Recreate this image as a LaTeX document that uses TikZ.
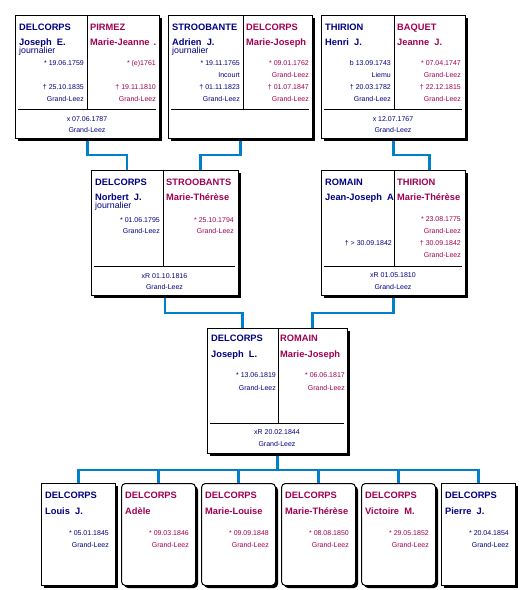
\documentclass[tikz,border=0pt]{standalone}
\usepackage{fontspec}
\setmainfont{Liberation Sans}
\usetikzlibrary{shadows}
\definecolor{mcol}{RGB}{0,0,128}
\definecolor{fcol}{RGB}{160,0,80}
\definecolor{lcol}{RGB}{0,128,200}
\newcommand\fsur{\fontsize{9.3}{10}\selectfont\bfseries}
\newcommand\fjob{\fontsize{8.8}{10}\selectfont}
\newcommand\fdat{\fontsize{7}{8}\selectfont}
\pgfdeclarelayer{background}
\pgfsetlayers{background,main}
\begin{document}
\begin{tikzpicture}[x=1pt,y=-1pt,
  box/.style={draw=black, fill=white, line width=1pt, inner sep=0, anchor=north west,
    drop shadow={shadow xshift=2.5pt, shadow yshift=-2.5pt, opacity=1, fill=black}},
  fbox/.style={box, rounded corners=4pt},
  div/.style={line width=1pt},
  conn/.style={draw=lcol, line width=2.5pt},
  ms/.style={font=\fsur, inner sep=0, anchor=base west, text=mcol},
  fs/.style={font=\fsur, inner sep=0, anchor=base west, text=fcol},
  job/.style={font=\fjob, inner sep=0, anchor=base west, text=mcol},
  mdat/.style={font=\fdat, inner sep=0, anchor=base east, text=mcol},
  fdat/.style={font=\fdat, inner sep=0, anchor=base east, text=fcol},
  mar/.style={font=\fdat, inner sep=0, anchor=base, text=mcol}]
\useasboundingbox (0,0) rectangle (526,590);

% ---------- boxes ----------
\node[box, minimum width=144, minimum height=123] (b1) at (15,15) {};
\node[box, minimum width=144, minimum height=123] (b2) at (168,15) {};
\node[box, minimum width=144, minimum height=123] (b3) at (321,15) {};
\node[box, minimum width=147, minimum height=125] (b4) at (91,170) {};
\node[box, minimum width=144, minimum height=125] (b5) at (321,170) {};
\node[box, minimum width=140, minimum height=125] (c) at (207,328) {};
\node[box,  minimum width=74, minimum height=102] (k1) at (41,483) {};
\node[fbox, minimum width=74, minimum height=102] (k2) at (121,483) {};
\node[fbox, minimum width=74, minimum height=102] (k3) at (201,483) {};
\node[fbox, minimum width=74, minimum height=102] (k4) at (281,483) {};
\node[fbox, minimum width=74, minimum height=102] (k5) at (361,483) {};
\node[box,  minimum width=74, minimum height=102] (k6) at (441,483) {};

% attachment points on the halves
\coordinate (b4m) at (127,170);
\coordinate (b4f) at (200.5,170);
\coordinate (b5f) at (429.5,170);
\coordinate (cm) at (242.5,328);
\coordinate (cf) at (312.5,328);

% ---------- connectors ----------
\begin{pgfonlayer}{background}
\draw[conn] (b1.south) -- ++(0,16) -| (b4m);
\draw[conn] (b2.south) -- ++(0,16) -| (b4f);
\draw[conn] (b3.south) -- ++(0,16) -| (b5f);
\draw[conn] (b4.south) -- ++(0,17) -| (cm);
\draw[conn] (b5.south) -- ++(0,17) -| (cf);
\draw[conn] (c.south) -- ++(0,16) coordinate (cj);
\draw[conn] (cj) -| (k1.north);
\draw[conn] (cj) -| (k2.north);
\draw[conn] (cj) -| (k3.north);
\draw[conn] (cj) -| (k4.north);
\draw[conn] (cj) -| (k5.north);
\draw[conn] (cj) -| (k6.north);
\end{pgfonlayer}

% ---------- box 1 ----------
\draw[div] (87,15) -- (87,109);
\draw[div] (18,109) -- (156,109);
\node[ms] at (19,30) {DELCORPS};
\node[ms] at (19,45) {Joseph~~E.};
\node[job] at (19,53) {journalier};
\node[mdat] at (84,65) {* 19.06.1759};
\node[mdat] at (84,89) {† 25.10.1835};
\node[mdat] at (84,101) {Grand-Leez};
\node[fs] at (90,30) {PIRMEZ};
\node[fs] at (90,45) {Marie-Jeanne\hspace{4pt}.};
\node[fdat] at (156,65) {* (e)1761};
\node[fdat] at (156,89) {† 19.11.1810};
\node[fdat] at (156,101) {Grand-Leez};
\node[mar] at (87,121) {x 07.06.1787};
\node[mar] at (87,132) {Grand-Leez};

% ---------- box 2 ----------
\draw[div] (243,15) -- (243,109);
\draw[div] (171,109) -- (309,109);
\node[ms] at (172,30) {STROOBANTE};
\node[ms] at (172,45) {Adrien~~J.};
\node[job] at (172,53) {journalier};
\node[mdat] at (240,65) {* 19.11.1765};
\node[mdat] at (240,77) {Incourt};
\node[mdat] at (240,89) {† 01.11.1823};
\node[mdat] at (240,101) {Grand-Leez};
\node[fs] at (246,30) {DELCORPS};
\node[fs] at (246,45) {Marie-Joseph};
\node[fdat] at (309,65) {* 09.01.1762};
\node[fdat] at (309,77) {Grand-Leez};
\node[fdat] at (309,89) {† 01.07.1847};
\node[fdat] at (309,101) {Grand-Leez};

% ---------- box 3 ----------
\draw[div] (394,15) -- (394,109);
\draw[div] (324,109) -- (462,109);
\node[ms] at (325,30) {THIRION};
\node[ms] at (325,45) {Henri~~J.};
\node[mdat] at (391,65) {b 13.09.1743};
\node[mdat] at (391,77) {Liemu};
\node[mdat] at (391,89) {† 20.03.1782};
\node[mdat] at (391,101) {Grand-Leez};
\node[fs] at (397,30) {BAQUET};
\node[fs] at (397,45) {Jeanne~~J.};
\node[fdat] at (461,65) {* 07.04.1747};
\node[fdat] at (461,77) {Grand-Leez};
\node[fdat] at (461,89) {† 22.12.1815};
\node[fdat] at (461,101) {Grand-Leez};
\node[mar] at (393,121) {x 12.07.1767};
\node[mar] at (393,132) {Grand-Leez};

% ---------- box 4 ----------
\draw[div] (163,170) -- (163,266);
\draw[div] (94,266) -- (235,266);
\node[ms] at (95,185) {DELCORPS};
\node[ms] at (95,200) {Norbert~~J.};
\node[job] at (95,208) {journalier};
\node[mdat] at (160,222) {* 01.06.1795};
\node[mdat] at (160,233.5) {Grand-Leez};
\node[fs] at (166,185) {STROOBANTS};
\node[fs] at (166,200) {Marie-Thérèse};
\node[fdat] at (234,222) {* 25.10.1794};
\node[fdat] at (234,233.5) {Grand-Leez};
\node[mar] at (164.5,278) {xR 01.10.1816};
\node[mar] at (164.5,289.5) {Grand-Leez};

% ---------- box 5 ----------
\draw[div] (394,170) -- (394,266);
\draw[div] (324,266) -- (462,266);
\node[ms] at (325,185) {ROMAIN};
\begin{scope}
\clip (322,171) rectangle (393,265);
\node[ms] at (325,200) {Jean-Joseph~~A};
\end{scope}
\node[mdat] at (392,245.5) {† > 30.09.1842};
\node[fs] at (397,185) {THIRION};
\node[fs] at (397,200) {Marie-Thérèse};
\node[fdat] at (461,221.5) {* 23.08.1775};
\node[fdat] at (461,233.5) {Grand-Leez};
\node[fdat] at (461,245.5) {† 30.09.1842};
\node[fdat] at (461,257.5) {Grand-Leez};
\node[mar] at (393,277.5) {xR 01.05.1810};
\node[mar] at (393,289.5) {Grand-Leez};

% ---------- couple ----------
\draw[div] (278,328) -- (278,423);
\draw[div] (210,423) -- (344,423);
\node[ms] at (211,341.5) {DELCORPS};
\node[ms] at (211,357) {Joseph~~L.};
\node[mdat] at (276,377.5) {* 13.06.1819};
\node[mdat] at (276,390) {Grand-Leez};
\node[fs] at (280,341.5) {ROMAIN};
\node[fs] at (280,357) {Marie-Joseph};
\node[fdat] at (345,377.5) {* 06.06.1817};
\node[fdat] at (345,390) {Grand-Leez};
\node[mar] at (277,434) {xR 20.02.1844};
\node[mar] at (277,446) {Grand-Leez};

% ---------- children ----------
\node[ms] at (45,498) {DELCORPS};
\node[ms] at (45,514) {Louis~~J.};
\node[mdat] at (109,535) {* 05.01.1845};
\node[mdat] at (109,547) {Grand-Leez};

\node[fs] at (125,498) {DELCORPS};
\node[fs] at (125,514) {Adèle};
\node[fdat] at (189,535) {* 09.03.1846};
\node[fdat] at (189,547) {Grand-Leez};

\node[fs] at (205,498) {DELCORPS};
\node[fs] at (205,514) {Marie-Louise};
\node[fdat] at (269,535) {* 09.09.1848};
\node[fdat] at (269,547) {Grand-Leez};

\node[fs] at (285,498) {DELCORPS};
\node[fs] at (285,514) {Marie-Thérèse};
\node[fdat] at (349,535) {* 08.08.1850};
\node[fdat] at (349,547) {Grand-Leez};

\node[fs] at (365,498) {DELCORPS};
\node[fs] at (365,514) {Victoire~~M.};
\node[fdat] at (429,535) {* 29.05.1852};
\node[fdat] at (429,547) {Grand-Leez};

\node[ms] at (445,498) {DELCORPS};
\node[ms] at (445,514) {Pierre~~J.};
\node[mdat] at (509,535) {* 20.04.1854};
\node[mdat] at (509,547) {Grand-Leez};
\end{tikzpicture}
\end{document}
